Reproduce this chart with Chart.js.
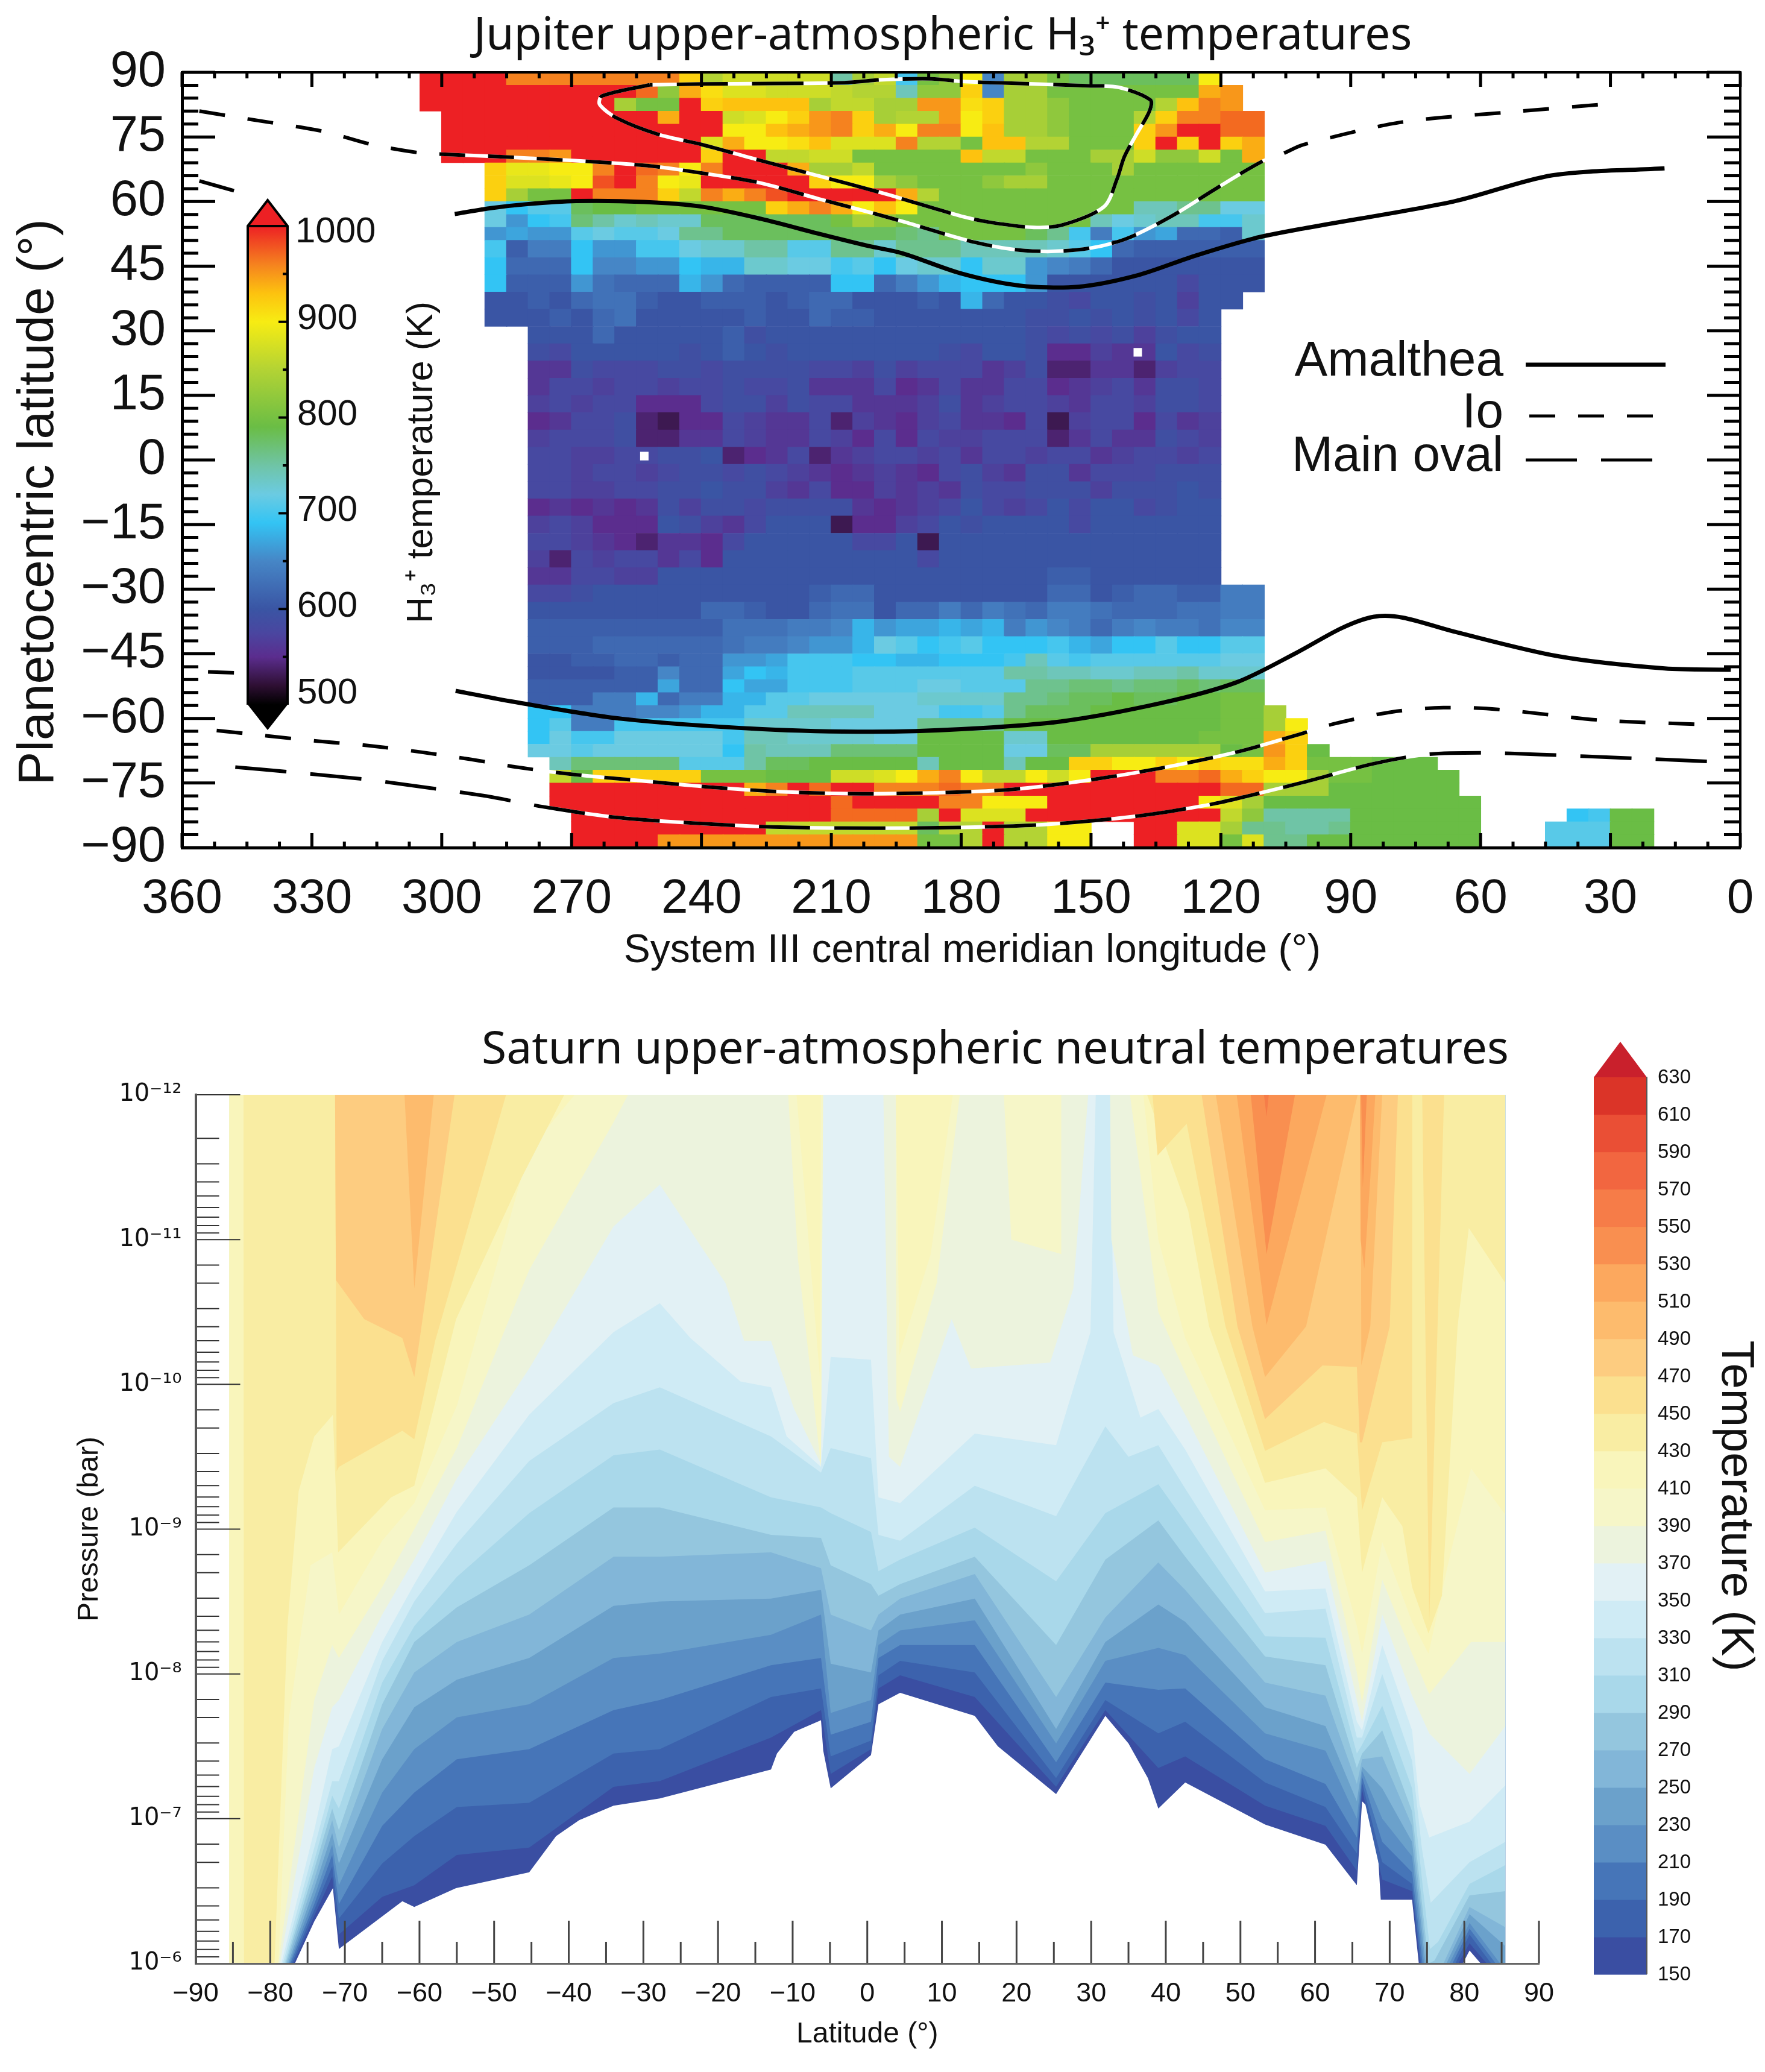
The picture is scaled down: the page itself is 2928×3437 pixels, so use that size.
<!DOCTYPE html>
<html><head><meta charset="utf-8"><title>Jupiter and Saturn upper-atmospheric temperatures</title>
<script src="https://cdn.jsdelivr.net/npm/chart.js@4/dist/chart.umd.js"></script>
<style>html,body{margin:0;padding:0;background:#fff}canvas{position:absolute;left:0}#a{top:0}#b{top:1660px}</style>
</head><body><canvas id="a" width="2928" height="1660"></canvas><canvas id="b" width="2928" height="1777"></canvas>
<script>
/* ---------- Jupiter: H3+ temperature map, in tens of kelvin (0 = no data) ---------- */
const jupiterLonEdges=[305,300,295,290,285,280,275,270,265,260,255,250,245,240,235,230,225,220,215,210,205,200,195,190,185,180,175,170,165,160,155,150,145,140,135,130,125,120,115,110];
const jupiterLatEdges=[90,87,84,81,78,75,72,69,66,63,60,57,54,51,47,43,39,35,31,27,23,19,15,11,7,3,-1,-5,-9,-13,-17,-21,-25,-29,-33,-37,-41,-45,-48,-51,-54,-57,-60,-63,-66,-69,-72,-75,-78,-81,-84,-87,-90];
const jupiterRows=[
[100,100,100,100,96,96,96,96,96,96,96,96,92,85,87,87,87,87,87,75,84,86,70,80,82,90,65,84,84,80,78,78,78,78,78,78,90,0,0],
[100,100,100,100,100,100,100,100,100,100,97,82,94,91,88,88,87,87,87,86,85,85,74,82,82,92,65,84,84,80,80,80,80,80,80,80,94,95,0],
[100,100,100,100,100,100,100,100,100,84,80,80,100,92,93,93,93,93,84,86,86,84,84,95,95,91,92,84,84,82,80,80,80,80,85,93,96,95,0],
[0,100,100,100,100,100,100,100,100,100,100,94,100,100,87,88,90,92,95,96,92,84,85,85,95,90,92,84,84,82,80,80,80,85,92,96,96,97,97],
[0,100,100,100,100,100,100,100,100,100,100,100,100,100,90,90,93,94,95,96,92,94,90,96,96,90,93,84,84,82,80,80,80,92,95,100,100,97,97],
[0,100,100,100,100,100,100,100,100,100,100,100,100,88,94,90,90,91,93,88,88,88,96,85,85,80,93,93,85,85,80,80,80,92,100,92,100,92,94],
[0,100,100,100,96,96,95,100,100,100,100,100,100,92,100,100,86,86,87,87,80,80,80,80,80,93,86,86,80,80,80,84,84,87,82,82,87,80,94],
[0,0,0,92,89,89,90,90,96,100,97,96,90,96,100,100,100,94,84,84,86,80,80,80,80,80,80,80,82,80,80,80,84,80,80,80,80,80,80],
[0,0,0,92,88,88,89,90,98,100,96,90,89,100,100,100,100,100,92,90,90,84,82,80,80,80,82,84,84,80,80,80,80,80,80,80,80,80,80],
[0,0,0,92,84,80,80,100,96,96,96,92,86,96,94,96,98,100,100,100,100,100,94,85,80,80,80,80,80,80,80,80,80,80,80,80,80,80,80],
[0,0,0,72,69,71,71,78,79,79,80,80,80,80,80,80,92,94,96,94,90,93,90,80,80,80,80,80,80,80,80,80,80,74,74,76,76,72,72],
[0,0,0,72,66,69,70,77,75,73,74,73,73,78,78,78,78,78,78,80,84,82,80,80,80,80,80,80,80,80,80,74,72,73,74,74,70,70,73],
[0,0,0,66,67,66,66,71,72,71,71,72,76,76,78,78,78,78,78,78,78,78,77,76,80,80,80,80,78,76,70,64,70,66,67,62,62,61,73],
[0,0,0,70,61,64,64,69,66,66,70,70,72,73,73,75,75,71,71,76,76,73,76,76,76,74,74,74,74,73,71,69,62,61,61,61,61,61,61],
[0,0,0,69,62,62,62,69,65,65,66,66,69,68,68,73,73,72,72,70,71,69,72,73,73,69,73,73,66,65,64,62,60,60,60,60,60,60,60],
[0,0,0,69,61,61,61,66,63,62,62,62,68,66,62,61,61,61,61,69,69,62,64,66,68,69,69,69,66,60,60,60,60,60,60,58,60,60,60],
[0,0,0,60,60,61,60,62,63,63,61,60,60,61,61,61,60,61,62,62,60,60,60,61,60,68,62,60,60,59,58,60,60,59,60,57,60,60,0],
[0,0,0,60,60,60,61,60,62,63,60,60,60,60,60,61,60,60,62,61,61,60,60,60,60,60,60,60,59,59,60,59,60,59,60,58,60,0,0],
[0,0,0,0,0,60,60,60,62,60,60,60,60,60,61,59,60,60,60,60,60,60,60,60,60,60,60,60,59,58,59,58,59,57,59,60,60,0,0],
[0,0,0,0,0,59,58,60,60,60,60,60,59,60,61,60,59,60,60,60,60,60,60,60,59,58,60,60,59,55,55,57,56,56,60,58,59,0,0],
[0,0,0,0,0,56,56,59,58,58,58,59,59,58,59,59,59,59,58,58,57,59,57,58,58,58,56,57,59,54,54,56,56,54,57,58,58,0,0],
[0,0,0,0,0,56,58,58,57,58,58,57,58,58,59,58,58,59,56,56,56,58,55,56,58,56,56,58,58,55,56,57,58,56,59,59,58,0,0],
[0,0,0,0,0,57,58,57,58,58,55,55,55,58,59,59,57,59,58,58,56,56,56,57,59,56,57,58,58,57,56,58,58,57,59,59,58,0,0],
[0,0,0,0,0,55,56,58,58,59,54,53,55,55,58,57,56,56,58,54,57,56,55,57,58,56,56,55,58,53,57,58,58,55,58,56,57,0,0],
[0,0,0,0,0,57,58,58,58,59,54,54,56,56,58,57,56,56,58,57,55,58,55,58,57,57,58,58,58,54,56,58,56,56,59,58,57,0,0],
[0,0,0,0,0,58,58,57,57,58,58,59,59,60,54,55,56,58,54,56,57,58,58,57,58,56,58,58,57,58,58,56,57,58,58,57,58,0,0],
[0,0,0,0,0,58,58,57,58,58,57,58,59,59,58,59,58,57,56,55,56,57,56,55,58,59,57,56,59,59,56,58,58,58,59,59,59,0,0],
[0,0,0,0,0,58,58,57,57,58,58,59,59,60,59,59,57,56,58,55,55,57,56,57,56,59,58,58,59,59,59,57,59,59,59,60,59,0,0],
[0,0,0,0,0,55,56,55,56,55,56,59,57,59,59,58,59,59,59,59,56,55,56,57,58,60,58,57,58,60,58,60,60,58,59,60,60,0,0],
[0,0,0,0,0,57,58,57,55,55,55,60,59,57,56,58,60,60,60,53,55,55,57,58,60,59,60,60,60,60,58,60,60,60,60,60,60,0,0],
[0,0,0,0,0,58,58,57,56,55,54,56,56,55,58,60,60,60,60,60,58,58,60,53,60,60,60,60,60,60,60,60,60,60,60,60,60,0,0],
[0,0,0,0,0,57,54,58,57,58,58,56,58,55,60,60,60,60,60,60,60,60,60,58,60,60,60,60,60,60,60,60,60,60,60,60,60,0,0],
[0,0,0,0,0,56,56,58,58,57,57,60,60,60,60,60,60,60,60,60,60,60,60,60,60,60,60,60,60,61,61,60,60,60,60,60,60,0,0],
[0,0,0,0,0,58,58,59,60,60,60,60,60,60,60,60,60,60,61,62,62,60,60,60,60,60,60,60,60,62,62,60,61,62,62,61,61,64,64],
[0,0,0,0,0,60,60,60,60,60,60,60,60,62,62,61,60,60,62,63,63,60,62,62,64,62,64,63,62,64,64,63,62,62,62,63,63,64,64],
[0,0,0,0,0,61,61,61,61,61,61,61,61,61,63,63,63,64,64,65,68,66,67,67,68,67,68,64,66,65,64,62,64,65,64,64,63,65,65],
[0,0,0,0,0,61,61,61,62,62,62,62,62,62,63,64,64,65,66,66,68,72,71,69,70,71,69,69,69,70,68,67,69,69,71,69,69,71,71],
[0,0,0,0,0,60,60,61,61,62,62,61,62,62,66,66,67,70,70,70,69,69,68,68,69,69,69,70,74,71,70,71,71,71,71,71,71,72,72],
[0,0,0,0,0,60,60,60,60,61,61,65,62,62,67,69,68,70,70,70,71,71,71,71,71,71,71,75,75,74,74,73,73,74,74,75,73,73,73],
[0,0,0,0,0,61,61,61,61,61,61,67,62,62,69,67,67,70,70,70,71,71,71,72,72,71,71,71,76,76,77,77,76,77,77,78,77,78,78],
[0,0,0,0,0,61,61,61,64,64,68,62,64,64,68,68,71,71,72,72,72,72,72,73,73,73,73,76,76,77,78,78,79,78,78,79,79,80,80],
[0,0,0,0,0,69,69,64,64,64,65,65,66,68,68,71,71,74,74,74,74,72,72,72,70,70,71,76,78,78,78,79,79,79,79,79,79,80,80],
[0,0,0,0,0,69,71,64,64,70,70,70,70,70,70,73,73,73,73,72,72,72,72,76,76,76,76,79,79,79,79,79,79,79,79,79,79,80,80],
[0,0,0,0,0,69,72,70,70,72,72,72,72,72,70,74,74,73,73,73,73,72,72,79,79,79,79,73,73,79,79,79,79,79,79,79,80,80,80],
[0,0,0,0,0,72,72,71,72,72,72,72,72,72,69,75,74,74,74,77,77,77,77,79,79,79,79,72,72,78,78,84,84,84,84,84,84,79,80],
[0,0,0,0,0,0,74,77,77,77,77,77,71,71,71,75,78,78,79,79,79,79,79,74,79,79,79,74,79,79,92,92,90,90,92,90,92,91,91],
[0,0,0,0,0,0,86,79,92,92,92,92,92,80,80,80,79,79,79,87,87,88,90,94,96,90,86,86,90,87,90,100,100,100,96,96,97,94,92],
[0,0,0,0,0,0,100,100,100,100,100,100,100,100,100,94,96,100,97,100,100,96,96,96,97,96,96,100,100,100,100,100,100,100,100,100,100,97,97],
[0,0,0,0,0,0,100,100,100,100,100,100,100,100,100,100,100,100,100,97,100,100,100,100,96,96,90,90,90,100,100,100,100,100,100,100,90,88,84],
[0,0,0,0,0,0,0,100,100,100,100,100,100,100,100,100,100,100,100,97,97,97,97,84,100,88,88,88,100,100,100,100,100,100,100,100,100,86,82],
[0,0,0,0,0,0,0,100,100,100,100,100,100,100,100,100,86,86,86,86,86,86,86,78,85,85,100,85,85,90,90,0,0,100,100,88,88,84,76],
[0,0,0,0,0,0,0,100,100,100,100,95,95,95,95,95,95,95,95,95,95,95,95,80,80,85,100,85,85,90,90,0,0,100,100,88,88,80,88]
];
const tailLonLeft=[110,105,100,95,90,85,80,75,70,65,45,40,35,30,25];
const tailLatEdges=[-57,-60,-63,-66,-69,-72,-75,-78,-81,-84,-87,-90];
const tailRows=[
[84,0,0,0,0,0,0,0,0,0,0,0,0,0,0],
[84,90,0,0,0,0,0,0,0,0,0,0,0,0,0],
[94,92,0,0,0,0,0,0,0,0,0,0,0,0,0],
[95,92,79,0,0,0,0,0,0,0,0,0,0,0,0],
[94,92,80,80,80,79,79,79,0,0,0,0,0,0,0],
[90,90,84,80,80,79,79,79,79,0,0,0,0,0,0],
[84,84,84,79,79,79,79,79,79,0,0,0,0,0,0],
[79,79,79,79,79,79,79,79,79,79,0,0,0,0,0],
[75,75,75,75,79,79,79,79,79,79,0,69,70,79,79],
[76,75,75,76,79,79,79,79,79,79,71,71,71,79,79],
[76,76,79,79,79,79,79,79,79,79,71,71,71,79,79]
];
const gapLon=[139.2,253.2];
const gapLat=[25,0.9];
const jupiterStops=[[500,'#000000'],[520,'#2e0f33'],[550,'#5b2d8e'],[575,'#4a46a0'],[600,'#3a55a4'],[650,'#4686c6'],[690,'#33c4f4'],[720,'#6bcbe2'],[750,'#6fc4a6'],[790,'#6abd45'],[850,'#b3d334'],[900,'#f7ec13'],[930,'#fdc20f'],[960,'#f5821f'],[1000,'#ed2024']];
const jupiterBarTicks=[1000,900,800,700,600,500];

/* auroral footprints: [longitude, latitude] */
const amaltheaNorthA=[[356,64.8],[348,62.5]];
const amaltheaNorth=[[297,57.1],[288.4,58.5],[280.3,59.4],[269,60.1],[253.3,59.9],[239.8,58.8],[226.3,56],[212.8,52.5],[201.5,49.7],[193.6,48],[180,43.3],[166.5,40.5],[153,40.2],[139.5,42.8],[126,47.4],[112.5,51.4],[101.2,53.7],[66.3,60],[43.4,66.1],[17.5,67.7]];
const amaltheaSouthA=[[354,-49.2],[348,-49.4]];
const amaltheaSouth=[[296.8,-53.6],[283.7,-56.1],[258.3,-60.1],[225.9,-62.5],[200.5,-63.1],[180,-62.5],[156.9,-60.7],[133.6,-56.4],[116.3,-51.6],[102.6,-44.8],[92,-39],[84.6,-36.4],[78,-36.6],[66.3,-39.8],[41.9,-45.6],[17.5,-48.4],[2.2,-48.7]];
const ioNorth=[[356,81],[345,79.2],[327.4,76.3],[316,73.2],[304.4,71.2],[300,71],[280.3,70.1],[253.3,68.4],[239.8,66.6],[226.3,64.3],[212.8,60.6],[201.5,57.6],[193.6,55.4],[176.7,50.5],[165.2,48.6],[153,48.8],[142.3,51.2],[131.4,56.6],[121.3,62.9],[110.5,69.3],[105.5,71.2],[101,73.2],[78.5,78.4],[54.1,80.7],[29,82.8]];
const ioSouth=[[352,-62.8],[328.5,-65.3],[317,-66.3],[305,-67.8],[293.4,-69.5],[281.4,-71.5],[269.8,-73],[254.8,-74.4],[237.4,-76],[220,-77.1],[202.9,-77.5],[183.3,-77.2],[168.2,-76.5],[151,-74.4],[133.6,-71.5],[116.3,-67.8],[102.6,-63.9],[94,-61.3],[80.5,-58.5],[68.6,-57.5],[56,-57.9],[32.4,-60.4],[7,-61.5]];
const mainOvalNorth=[[252,87.1],[263,84.5],[263.5,82.5],[259.4,79.3],[250,75.6],[239.8,73.2],[226.3,69.5],[214.2,66.3],[197.6,61.8],[180,56.6],[173.4,55.2],[163.2,54],[156.5,54.6],[147,58.8],[144,65.2],[142.3,70.4],[139.5,75.6],[136.5,81],[136.3,83.6],[143.5,86.5],[151,86.9],[169.4,87.5],[180,87.9],[186.8,88.5],[198,88.3],[207,87.6],[239.8,87.3],[252,87.1]];
const mainOvalSouth=[[347.7,-71.3],[335.6,-72.4],[318,-74.1],[312.5,-74.8],[290.6,-77.9],[283.5,-79.2],[276.7,-80.5],[260.6,-82.9],[242,-84.3],[223.6,-85.2],[200.5,-85.5],[180,-85.3],[160.2,-84.6],[139.4,-82.7],[122,-79.9],[113.3,-77.9],[100.8,-74.8],[84.6,-70.5],[72.8,-68.4],[60.3,-68],[45.8,-68.4],[26,-69.2],[2.2,-70.2]];

/* ---------- Saturn: isotherms as [latitude, log10(pressure / bar)] ---------- */
const iso150=[[-85.5,-5],[-76.7,-6],[-74.1,-6.29],[-71.6,-6.52],[-70.8,-6.1],[-62.3,-6.43],[-60.7,-6.39],[-55.1,-6.52],[-45.3,-6.63],[-41.7,-6.88],[-38.6,-6.99],[-34,-7.09],[-27.8,-7.14],[-12.9,-7.34],[-12.1,-7.45],[-9.8,-7.6],[-6.2,-7.68],[-5.9,-7.47],[-4.9,-7.21],[0.5,-7.44],[1.5,-7.79],[4.4,-7.87],[14.4,-7.71],[17.5,-7.5],[25.3,-7.17],[31.9,-7.71],[35,-7.52],[37.6,-7.28],[39,-7.07],[42.6,-7.25],[53.3,-6.96],[61.4,-6.82],[65.6,-6.54],[66.3,-7.12],[67.5,-7.06],[68.3,-6.87],[68.8,-6.44],[73,-6.44],[73.9,-6],[75,-5.5],[79,-5.5],[79.8,-6],[80.7,-6.09],[82.2,-6],[83,-5.5],[85.5,-5.5]];
const iso170=[[-85.5,-5],[-76.9,-6],[-74.1,-6.33],[-71.7,-6.6],[-70.8,-6.2],[-65,-6.46],[-60.7,-6.54],[-55,-6.75],[-45.3,-6.8],[-34,-7.22],[-27.8,-7.26],[-12.9,-7.56],[-6.2,-7.75],[-4.9,-7.31],[0.5,-7.48],[1.5,-7.9],[4.4,-7.99],[14.4,-7.84],[25.3,-7.22],[31.9,-7.75],[39,-7.35],[42.6,-7.43],[53.3,-7.09],[61.4,-6.95],[65.6,-6.64],[66.3,-7.2],[69,-6.58],[73,-6.5],[74.1,-6],[75,-5.5],[78.5,-5.5],[79.2,-6],[80.7,-6.14],[83,-6],[85.5,-5.7]];
const iso190=[[-85.5,-5],[-77.1,-6],[-74.1,-6.37],[-71.7,-6.67],[-70.8,-6.31],[-65,-6.69],[-60.7,-6.88],[-55,-7.08],[-45.3,-7.11],[-34,-7.45],[-27.8,-7.48],[-12.9,-7.84],[-6.2,-7.9],[-4.9,-7.43],[0.5,-7.54],[1.5,-7.99],[4.4,-8.09],[14.4,-8.01],[25.3,-7.28],[31.9,-7.82],[39,-7.59],[42.6,-7.67],[53.3,-7.25],[61.4,-7.08],[65.6,-6.76],[66.3,-7.25],[69,-6.7],[73,-6.55],[74.2,-6],[75,-5.5],[78,-5.5],[78.8,-6],[80.7,-6.2],[83.6,-6],[85.5,-5.8]];
const iso210=[[-85.5,-5],[-77.3,-6],[-74.1,-6.41],[-71.7,-6.75],[-70.8,-6.41],[-65,-6.95],[-60.7,-7.18],[-55,-7.41],[-45.3,-7.48],[-34,-7.75],[-27.8,-7.82],[-12.9,-8.06],[-6.2,-8.11],[-4.9,-7.58],[0.5,-7.67],[1.5,-8.11],[4.4,-8.2],[14.4,-8.2],[25.3,-7.39],[31.9,-7.94],[39,-7.89],[42.6,-7.9],[53.3,-7.41],[61.4,-7.24],[65.6,-6.87],[66.3,-7.29],[69,-6.84],[73,-6.63],[74.4,-6],[75,-5.5],[77.5,-5.5],[78.4,-6],[80.7,-6.24],[84.2,-6],[85.5,-5.85]];
const iso230=[[-85.5,-5],[-77.45,-6],[-74.1,-6.46],[-71.7,-6.82],[-70.8,-6.54],[-65,-7.18],[-60.7,-7.48],[-55,-7.7],[-45.3,-7.79],[-34,-8.11],[-27.8,-8.14],[-12.9,-8.27],[-6.2,-8.41],[-4.9,-7.73],[0.5,-7.82],[1.5,-8.2],[4.4,-8.3],[14.4,-8.37],[25.3,-7.52],[31.9,-8.09],[39,-8.18],[42.6,-8.13],[53.3,-7.59],[61.4,-7.47],[65.6,-7],[66.3,-7.33],[69,-7],[73,-6.74],[74.6,-6],[75.2,-5.5],[77,-5.5],[78,-6],[80.7,-6.28],[84.8,-6],[85.5,-5.9]];
const iso250=[[-85.5,-5],[-77.6,-6],[-74.1,-6.52],[-71.7,-6.9],[-70.8,-6.69],[-65,-7.41],[-60.7,-7.77],[-55,-7.96],[-45.3,-8.11],[-34,-8.47],[-27.8,-8.5],[-12.9,-8.52],[-6.2,-8.58],[-4.9,-8.07],[0.5,-8.01],[1.5,-8.3],[4.4,-8.41],[14.4,-8.52],[25.3,-7.62],[31.9,-8.22],[39,-8.48],[42.6,-8.36],[53.3,-7.77],[61.4,-7.64],[65.6,-7.12],[66.3,-7.36],[69,-7.21],[73,-6.84],[74.8,-6],[75.4,-5.5],[76.5,-5.5],[77.6,-6],[80.7,-6.34],[85.5,-6.12]];
const iso270=[[-85.5,-5],[-77.8,-6],[-74.1,-6.58],[-71.7,-6.99],[-70.8,-6.8],[-65,-7.62],[-60.7,-8.01],[-55,-8.22],[-45.3,-8.41],[-34,-8.81],[-27.8,-8.81],[-12.9,-8.84],[-6.2,-8.73],[-4.9,-8.41],[0.5,-8.3],[1.5,-8.41],[4.4,-8.52],[14.4,-8.69],[25.3,-7.84],[31.9,-8.39],[39,-8.77],[42.6,-8.58],[53.3,-7.94],[61.4,-7.85],[65.6,-7.24],[66.3,-7.41],[69,-7.43],[73,-6.95],[75,-6],[75.5,-5.7],[76.2,-5.7],[77.2,-6],[80.7,-6.39],[85.5,-6.25]];
const iso290=[[-85.5,-5],[-77.95,-6],[-74.1,-6.65],[-71.7,-7.07],[-70.8,-6.92],[-65,-7.79],[-60.7,-8.22],[-55,-8.46],[-45.3,-8.75],[-34,-9.15],[-27.8,-9.15],[-12.9,-8.96],[-6.2,-8.94],[-4.9,-8.75],[0.5,-8.62],[1.5,-8.54],[4.4,-8.62],[14.4,-8.81],[25.3,-8.2],[31.9,-8.79],[39,-9.06],[42.6,-8.81],[53.3,-8.12],[61.4,-8.06],[65.6,-7.35],[66.3,-7.45],[69,-7.61],[73,-7.05],[75.2,-6],[76,-6.02],[80.7,-6.47],[85.5,-6.5]];
const iso310=[[-85.5,-5],[-78.1,-6],[-74.1,-6.71],[-71.7,-7.16],[-70.8,-7.07],[-65,-7.94],[-60.7,-8.33],[-55,-8.67],[-45.3,-9.11],[-34,-9.51],[-27.8,-9.55],[-12.9,-9.22],[-6.2,-9.15],[-4.9,-9.11],[0.5,-8.98],[1.5,-8.71],[4.4,-8.79],[14.4,-9.01],[25.3,-8.64],[31.9,-9.11],[39,-9.31],[42.6,-9.05],[53.3,-8.26],[61.4,-8.25],[65.6,-7.45],[66.3,-7.51],[69,-7.78],[73,-7.21],[74.5,-6.5],[75.4,-6.1],[76.5,-6.15],[80.7,-6.55],[85.5,-6.68]];
const iso330=[[-85.5,-5],[-78.3,-6],[-74.1,-6.8],[-71.7,-7.26],[-70.8,-7.26],[-65,-8.09],[-60.7,-8.5],[-55,-8.9],[-45.3,-9.47],[-34,-9.87],[-27.8,-9.98],[-12.9,-9.64],[-6.2,-9.39],[-4.9,-9.56],[0.5,-9.49],[1.5,-8.96],[4.4,-8.92],[14.4,-9.3],[25.3,-9.09],[31.9,-9.71],[35,-9.5],[39,-9.58],[42.6,-9.28],[53.3,-8.42],[61.4,-8.45],[65.6,-7.56],[66.3,-7.56],[69,-8],[73,-7.4],[74.3,-6.8],[75.5,-6.42],[80.7,-6.7],[85.5,-6.84]];
const iso350=[[-85.5,-5],[-78.5,-6],[-74.1,-6.92],[-71.7,-7.48],[-70.8,-7.5],[-65,-8.22],[-60.7,-8.62],[-55,-9.12],[-45.3,-9.79],[-34,-10.36],[-27.8,-10.56],[-23.7,-10.32],[-17,-10.02],[-12.9,-9.98],[-10.8,-9.64],[-6.2,-9.43],[-4.9,-10.19],[0.5,-10.17],[1.5,-9.22],[4.4,-9.18],[14.4,-9.66],[25.3,-9.58],[29.9,-10.36],[30.7,-12.2],[32.5,-12.2],[33,-10.36],[36.6,-9.77],[39,-9.83],[42.6,-9.55],[53.3,-8.57],[61.4,-8.59],[65.6,-7.67],[66.3,-7.61],[69,-8.2],[73,-7.61],[74,-7.1],[75.3,-6.87],[80.7,-6.98],[85.5,-7.23]];
const iso370=[[-85.5,-5],[-78.7,-6],[-74.1,-7.35],[-71.7,-7.77],[-70.8,-7.82],[-65,-8.41],[-60.7,-8.79],[-55,-9.35],[-45.3,-10.11],[-34,-11.09],[-27.8,-11.38],[-19,-10.7],[-16.5,-10.3],[-12.9,-10.3],[-9.8,-9.83],[-6.2,-9.45],[-5.9,-12.2],[2.1,-12.2],[2.9,-9.5],[4.4,-9.43],[11.3,-10.45],[13.9,-10.11],[24.5,-10.15],[27.6,-10.66],[29.9,-12.2],[32.5,-12.2],[32.7,-11],[35.6,-10.2],[39,-10.13],[42.6,-9.79],[53.3,-8.7],[61.4,-8.78],[65.6,-7.82],[66.3,-7.67],[69,-8.41],[73,-7.85],[75.3,-7.59],[80.7,-7.31],[85.5,-7.64]];
const iso390=[[-85.5,-5],[-78.9,-6],[-74.1,-7.82],[-71.7,-8.2],[-70.8,-8.11],[-65,-8.6],[-60.7,-9],[-55,-9.56],[-45.3,-10.79],[-34,-11.81],[-30,-12.2],[-10.8,-12.2],[-10.6,-12],[-9.3,-10.87],[-6.2,-9.43],[-5.9,-12.2],[3.8,-12.2],[3.9,-9.9],[4.4,-9.81],[9.3,-10.7],[12.4,-12],[12.6,-12.2],[18.2,-12.2],[18.3,-12],[19.3,-11],[26,-10.9],[26,-12.2],[35,-12.2],[35.2,-12],[39,-10.5],[42.6,-10.08],[53.3,-8.91],[61.4,-8.99],[65.6,-8.01],[66.3,-7.8],[69,-8.65],[73,-8.14],[75.3,-7.86],[80.9,-8.22],[85.5,-8.22]];
const iso410=[[-85.5,-5],[-79,-5.9],[-77.5,-7.69],[-74.6,-8.75],[-71.7,-8.84],[-70.8,-8.41],[-65,-8.92],[-60.7,-9.18],[-55,-9.85],[-45.3,-11.62],[-36,-12.2],[-9.8,-12.2],[-6.3,-10.02],[-6.2,-12.2],[3.8,-12.2],[4.3,-10.2],[8.5,-10.9],[12,-12.2],[36,-12.2],[37,-12],[39,-11],[42.6,-10.32],[53.3,-9.13],[61.4,-9.15],[65.6,-8.33],[66.3,-8.14],[69,-8.91],[73,-8.36],[75.2,-8.14],[78,-8.8],[80.9,-9.42],[85.5,-9.1]];
const iso430=[[-83.6,-13],[-83.5,-5],[-79.5,-5.9],[-77.7,-8.33],[-76.2,-9.26],[-74.1,-9.64],[-71.6,-9.79],[-70.9,-8.84],[-63.8,-9.22],[-60.7,-9.3],[-55.1,-10.45],[-46.3,-11.43],[-40.6,-12],[-40,-12.2],[37,-12.2],[37.5,-12],[43,-11.2],[45.8,-10.4],[53.3,-9.32],[61.4,-9.42],[65.6,-9.22],[66.3,-8.7],[69,-9.22],[71.7,-9.02],[73,-8.6],[75.2,-8.28],[77,-8.54],[79.1,-10.4],[80.6,-11.08],[85.5,-10.7]];
const iso450=[[-71.4,-13],[-71.1,-9.4],[-70.8,-9.43],[-62.3,-9.68],[-60.7,-9.62],[-57.9,-10.3],[-48.4,-12],[-48,-12.2],[37.9,-12.2],[38.9,-11.58],[42.8,-11.8],[48,-10.4],[53.3,-9.54],[61.2,-9.74],[65.6,-9.66],[66.3,-9.13],[69,-9.6],[73,-9.63],[73.05,-13],[74.1,-13],[75.3,-8.36],[77.4,-12.2],[85.5,-12.2]];
const iso470=[[-71.4,-13],[-71.2,-10.72],[-67.4,-10.45],[-62.3,-10.32],[-60.7,-10.05],[-55.3,-12],[-55,-12.2],[44.6,-12.2],[44.8,-12],[49.6,-10.4],[53.3,-9.76],[61,-10.13],[65.6,-10.12],[66,-9.6],[66.3,-9.6],[70,-10.4],[71.1,-12],[71.3,-12.2]];
const iso490=[[-62.2,-12.2],[-60.7,-10.66],[-57.7,-12.2],[46.5,-12.2],[46.7,-12],[51.6,-10.4],[53.3,-10.05],[58.8,-10.4],[65.7,-12],[66,-12.2],[66.1,-12.2],[66.2,-10.13],[67.4,-10.4],[69,-12],[69.2,-12.2]];
const iso510=[[49,-12.2],[53.5,-10.41],[61.8,-12.05],[62,-12.2],[66,-12.2],[66.1,-11],[66.6,-10.8],[67.5,-11.5],[68.3,-12.2]];
const iso530=[[51,-12.2],[53.5,-10.9],[58,-12.2],[66.1,-12.2],[66.4,-11.36],[67.1,-12.2]];
const iso550=[[52.7,-12.2],[53.5,-11.85],[54.2,-12.2]];
const saturnLevels=[150,170,190,210,230,250,270,290,310,330,350,370,390,410,430,450,470,490,510,530,550,570,590,610,630];
const saturnBandColors=['#3a4ea2','#3c62ad','#4675b8','#5a8ec4','#6ba1cb','#82b6d8','#94c6de','#a9d8ea','#bce2f0','#cfebf5','#e2f1f5','#ecf3dd','#f6f6c8','#f9f5bb','#f9eda3','#fbe08f','#fdcc80','#fdbb6d','#fca85e','#f98f50','#f67c48','#f26640','#ea4f35','#db3428'];
const saturnTopColor='#c9202c';
const saturnIsotherms=[iso150,iso170,iso190,iso210,iso230,iso250,iso270,iso290,iso310,iso330,iso350,iso370,iso390,iso410,iso430,iso450,iso470,iso490,iso510,iso530,iso550];

/* ---------- helpers ---------- */
const SANS='"Liberation Sans"';
function hex(c){return [1,3,5].map(i=>parseInt(c.substr(i,2),16));}
function rampColor(t){
  if(t<=jupiterStops[0][0])return jupiterStops[0][1];
  for(let i=1;i<jupiterStops.length;i++){
    if(t<=jupiterStops[i][0]){
      const a=jupiterStops[i-1],b=jupiterStops[i],f=(t-a[0])/(b[0]-a[0]),A=hex(a[1]),B=hex(b[1]);
      return 'rgb('+A.map((v,k)=>Math.round(v+(B[k]-v)*f)).join(',')+')';
    }
  }
  return jupiterStops[jupiterStops.length-1][1];
}
function text(ctx,s,x,y,font,align,rot,color){
  ctx.save();ctx.translate(x,y);if(rot)ctx.rotate(rot);
  ctx.font=font;ctx.textAlign=align||'left';ctx.textBaseline='middle';ctx.fillStyle=color||'#111';
  ctx.fillText(s,0,0);ctx.restore();
}
const pts=a=>a.map(p=>({x:p[0],y:p[1]}));
function curve(a,color,width,dash,order){
  return {type:'scatter',showLine:true,data:pts(a),borderColor:color,borderWidth:width,borderDash:dash||[],pointRadius:0,pointHoverRadius:0,tension:0.3,fill:false,order,borderCapStyle:'butt',borderJoinStyle:'round'};
}
function titleMover(center,top){
  return {id:'titleMover',afterLayout(chart){const t=chart.titleBlock;t.left=center-1200;t.right=center+1200;if(top!==undefined)t.top=top;}};
}
const IO_DASH=[43,38],MAIN_DASH=[85,40];

/* ---------- Jupiter chart ---------- */
const cells=[];
jupiterRows.forEach((row,r)=>row.forEach((v,c)=>{
  if(v>0)cells.push({x:(jupiterLonEdges[c]+jupiterLonEdges[c+1])/2,y:[jupiterLatEdges[r+1],jupiterLatEdges[r]],t:v*10});
}));
tailRows.forEach((row,r)=>row.forEach((v,c)=>{
  if(v>0)cells.push({x:tailLonLeft[c]-2.5,y:[tailLatEdges[r+1],tailLatEdges[r]],t:v*10});
}));
const gapCells=gapLon.map((lon,i)=>({x:lon,y:[gapLat[i]-1,gapLat[i]+1]}));

const jupiterDecor={
  id:'jupiterDecor',
  afterDatasetsDraw(chart){
    const {ctx,chartArea:a,scales:{x,y}}=chart;
    ctx.save();ctx.strokeStyle='#000';
    ctx.lineWidth=5;ctx.beginPath();
    for(let v=0;v<=360;v+=7.5){const px=x.getPixelForValue(v),L=v%30===0?24:10;
      ctx.moveTo(px,a.bottom);ctx.lineTo(px,a.bottom-L);ctx.moveTo(px,a.top);ctx.lineTo(px,a.top+L);}
    for(let v=-90;v<=90;v+=3){const py=y.getPixelForValue(v),L=v%15===0?55:27;
      ctx.moveTo(a.left,py);ctx.lineTo(a.left+L,py);ctx.moveTo(a.right,py);ctx.lineTo(a.right-L,py);}
    ctx.stroke();
    ctx.lineWidth=4;ctx.beginPath();ctx.moveTo(a.left,a.top);ctx.lineTo(a.right,a.top);ctx.lineTo(a.right,a.bottom);ctx.stroke();
    const bx0=411,bx1=477,by0=375,by1=1169,grad=ctx.createLinearGradient(0,by1,0,by0);
    jupiterStops.forEach(s=>grad.addColorStop((s[0]-500)/500,s[1]));
    ctx.fillStyle=grad;ctx.fillRect(bx0,by0,bx1-bx0,by1-by0);
    ctx.fillStyle=jupiterStops[jupiterStops.length-1][1];ctx.beginPath();ctx.moveTo(bx0,by0);ctx.lineTo((bx0+bx1)/2,332);ctx.lineTo(bx1,by0);ctx.closePath();ctx.fill();
    ctx.fillStyle='#000';ctx.beginPath();ctx.moveTo(bx0,by1);ctx.lineTo((bx0+bx1)/2,1211);ctx.lineTo(bx1,by1);ctx.closePath();ctx.fill();
    ctx.lineWidth=4;ctx.strokeStyle='#000';
    ctx.beginPath();ctx.moveTo(bx0,by1);ctx.lineTo(bx0,by0);ctx.lineTo((bx0+bx1)/2,332);ctx.lineTo(bx1,by0);ctx.lineTo(bx1,by1);ctx.moveTo(bx0,by0);ctx.lineTo(bx1,by0);ctx.stroke();
    for(let t=550;t<1000;t+=50){const py=by1-(t-500)/500*(by1-by0),L=t%100===0?15:8;
      ctx.beginPath();ctx.moveTo(bx1,py);ctx.lineTo(bx1-L,py);ctx.stroke();}
    jupiterBarTicks.forEach(t=>{const py=by1-(t-500)/500*(by1-by0)+(t===500?-19:t===1000?10:-4);
      text(ctx,String(t),t===1000?490:493,py,'60px '+SANS,'left');});
    text(ctx,'H\u2083\u207A temperature (K)',700,767,'61px '+SANS,'center',-Math.PI/2);
    const lf='82px '+SANS;
    text(ctx,'Amalthea',2494,600,lf,'right');
    text(ctx,'Io',2494,686,lf,'right');
    text(ctx,'Main oval',2494,758,lf,'right');
    ctx.lineCap='butt';ctx.strokeStyle='#000';ctx.lineWidth=7;
    ctx.beginPath();ctx.moveTo(2531,605);ctx.lineTo(2763,605);ctx.stroke();
    ctx.lineWidth=5;ctx.setLineDash(IO_DASH);ctx.beginPath();ctx.moveTo(2537,690);ctx.lineTo(2752,690);ctx.stroke();
    ctx.setLineDash(MAIN_DASH);ctx.beginPath();ctx.moveTo(2531,763);ctx.lineTo(2746,763);ctx.stroke();
    ctx.restore();
  }
};
const jupiterDatasets=[
  {type:'bar',label:'H3+ temperature',data:cells,backgroundColor:c=>rampColor(c.raw.t),borderWidth:0,barThickness:37,grouped:false,order:20},
  {type:'bar',label:'no data',data:gapCells,backgroundColor:'#fff',borderWidth:0,barThickness:14,grouped:false,order:19,inflateAmount:0},
  Object.assign(curve(ioNorth,'#fff',6,[],10),{label:'Io underlay N'}),
  Object.assign(curve(ioSouth,'#fff',6,[],10),{label:'Io underlay S'}),
  Object.assign(curve(mainOvalNorth,'#fff',6,[],10),{label:'Main oval underlay N'}),
  Object.assign(curve(mainOvalSouth,'#fff',6,[],10),{label:'Main oval underlay S'}),
  Object.assign(curve(ioNorth,'#000',6,IO_DASH,2),{label:'Io N'}),
  Object.assign(curve(ioSouth,'#000',6,IO_DASH,2),{label:'Io S'}),
  Object.assign(curve(mainOvalNorth,'#000',6,MAIN_DASH,2),{label:'Main oval N'}),
  Object.assign(curve(mainOvalSouth,'#000',6,MAIN_DASH,2),{label:'Main oval S'}),
  Object.assign(curve(amaltheaNorthA,'#000',6,[],1),{label:'Amalthea N1'}),
  Object.assign(curve(amaltheaNorth,'#000',7,[],1),{label:'Amalthea N2'}),
  Object.assign(curve(amaltheaSouthA,'#000',6,[],1),{label:'Amalthea S1'}),
  Object.assign(curve(amaltheaSouth,'#000',7,[],1),{label:'Amalthea S2'})
];
new Chart(document.getElementById('a'),{
  type:'bar',
  data:{datasets:jupiterDatasets},
  options:{
    responsive:false,animation:false,devicePixelRatio:1,
    layout:{padding:{left:0,right:41,top:0,bottom:0}},
    plugins:{legend:{display:false},tooltip:{enabled:false},
      title:{display:true,text:'Jupiter upper-atmospheric H\u2083\u207A temperatures',color:'#111',
        font:{family:'"Noto Sans"',size:75,weight:'normal',lineHeight:1.2},padding:{top:16,bottom:14}}},
    scales:{
      x:{type:'linear',reverse:true,min:0,max:360,offset:false,
        afterFit(s){s.height=254;s.paddingLeft=0;s.paddingRight=0;},
        grid:{display:false,drawTicks:false,offset:false},
        border:{display:true,color:'#000',width:5,z:3},
        ticks:{stepSize:30,autoSkip:false,maxRotation:0,color:'#111',padding:38,font:{family:SANS,size:80}},
        title:{display:true,text:'\u00A0\u00A0System III central meridian longitude (\u00B0)',color:'#111',font:{family:SANS,size:66},padding:{top:0,bottom:43}}},
      y:{type:'linear',min:-90,max:90,position:'left',
        afterFit(s){s.width=302;s.paddingTop=0;s.paddingBottom=0;},
        grid:{display:false,drawTicks:false},
        border:{display:true,color:'#000',width:5,z:3},
        ticks:{stepSize:15,autoSkip:false,color:'#111',padding:27,font:{family:SANS,size:83},
          callback:v=>v<0?'\u2212'+Math.abs(v):String(v)},
        title:{display:true,text:'Planetocentric latitude (\u00B0)\u00A0\u00A0\u00A0\u00A0\u00A0\u00A0',color:'#111',font:{family:SANS,size:84},padding:{top:14,bottom:0}}}
    }
  },
  plugins:[jupiterDecor,titleMover(1564)]
});

/* ---------- Saturn chart ---------- */
const SUP={'-':'\u207B','0':'\u2070','1':'\u00B9','2':'\u00B2','3':'\u00B3','4':'\u2074','5':'\u2075','6':'\u2076','7':'\u2077','8':'\u2078','9':'\u2079'};
const saturnDecor={
  id:'saturnDecor',
  afterDatasetsDraw(chart){
    const {ctx,chartArea:a,scales:{x,y}}=chart;
    ctx.save();
    ctx.strokeStyle='#333';ctx.lineWidth=2;ctx.beginPath();
    y.ticks.forEach(t=>{const py=y.getPixelForValue(t.value),e=Math.log10(t.value),maj=Math.abs(e-Math.round(e))<1e-6;
      ctx.moveTo(a.left,py);ctx.lineTo(a.left+(maj?74:39),py);});
    ctx.stroke();
    ctx.strokeStyle='#444';ctx.lineWidth=3;ctx.beginPath();
    for(let v=-90;v<=90;v+=5){const px=x.getPixelForValue(v),L=v%10===0?71:36;ctx.moveTo(px,a.bottom);ctx.lineTo(px,a.bottom-L);}
    ctx.stroke();
    const bx0=2644,bx1=2732,by0=1786.5-1660,by1=3275-1660,n=saturnBandColors.length,step=(by1-by0)/n;
    saturnBandColors.forEach((c,i)=>{ctx.fillStyle=c;ctx.fillRect(bx0,by1-step*(i+1),bx1-bx0,step+0.6);});
    ctx.fillStyle=saturnTopColor;ctx.beginPath();ctx.moveTo(bx0,by0+0.5);ctx.lineTo((bx0+bx1)/2,1728-1660);ctx.lineTo(bx1,by0+0.5);ctx.closePath();ctx.fill();
    ctx.strokeStyle='#555';ctx.lineWidth=2;ctx.beginPath();ctx.moveTo(bx1,by0);ctx.lineTo(bx1,by1);ctx.stroke();
    saturnLevels.forEach((L,i)=>text(ctx,String(L),2750,by1-step*i+1,'33px '+SANS,'left'));
    text(ctx,'Temperature (K)',2878,2498-1660,'76px '+SANS,'center',Math.PI/2);
    ctx.restore();
  }
};
const saturnDatasets=saturnIsotherms.map((iso,i)=>({
  type:'line',label:saturnLevels[i]+' K isotherm',
  data:iso.map(p=>({x:p[0],y:Math.pow(10,p[1])})),
  backgroundColor:saturnBandColors[i],borderColor:saturnBandColors[i],borderWidth:0,
  pointRadius:0,pointHoverRadius:0,tension:0,fill:'end',order:saturnIsotherms.length-i
}));
new Chart(document.getElementById('b'),{
  type:'line',
  data:{datasets:saturnDatasets},
  options:{
    responsive:false,animation:false,devicePixelRatio:1,
    layout:{padding:{left:0,right:375,top:0,bottom:0}},
    plugins:{legend:{display:false},tooltip:{enabled:false},
      title:{display:true,text:'Saturn upper-atmospheric neutral temperatures',color:'#111',
        font:{family:'"Noto Sans"',size:75,weight:'normal',lineHeight:1.2},padding:{top:38,bottom:28}}},
    scales:{
      x:{type:'linear',min:-90,max:90,
        afterFit(s){s.height=180;s.paddingLeft=0;s.paddingRight=0;},
        grid:{display:false,drawTicks:false},
        border:{display:true,color:'#666',width:3,z:3},
        ticks:{stepSize:10,autoSkip:false,maxRotation:0,color:'#111',padding:24,font:{family:SANS,size:45},
          callback:v=>v<0?'\u2212'+Math.abs(v):String(v)},
        title:{display:true,text:'Latitude (\u00B0)',color:'#111',font:{family:SANS,size:48},padding:{top:0,bottom:33}}},
      y:{type:'logarithmic',reverse:true,min:1e-12,max:1e-6,position:'left',
        afterFit(s){s.width=324.5;s.paddingTop=0;s.paddingBottom=0;},
        grid:{display:false,drawTicks:false},
        border:{display:true,color:'#555',width:4,z:3},
        ticks:{autoSkip:false,color:'#111',padding:23,font:{family:'"DejaVu Sans"',size:40},
          callback(v){const e=Math.log10(v),r=Math.round(e);
            if(Math.abs(e-r)>1e-6)return '';
            return '10'+String(r).split('').map(c=>SUP[c]).join('');}},
        title:{display:true,text:'Pressure (bar)',color:'#111',font:{family:SANS,size:48},padding:{top:120,bottom:0}}}
    }
  },
  plugins:[saturnDecor,titleMover(1651)]
});
</script></body></html>
